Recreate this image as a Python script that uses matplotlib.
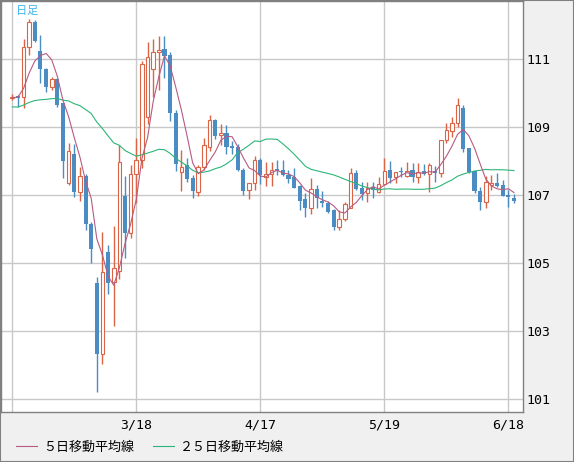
import numpy as np
import pandas as pd
import matplotlib.pyplot as plt
from matplotlib.patches import Rectangle
from matplotlib.font_manager import FontProperties

# daily candles, 2/17 .. 6/19 (weekdays)
opens = [109.85, 109.92, 109.88, 111.35, 112.09, 111.24, 110.70, 110.17, 110.42, 109.70,
         107.35, 108.20, 107.10, 107.57, 106.15, 104.41, 102.32, 105.32, 104.44, 104.76,
         106.98, 105.88, 107.63, 108.05, 109.31, 110.70, 111.20, 111.30, 111.13, 109.43,
         107.69, 107.90, 107.52, 107.09, 107.82, 108.41, 109.21, 108.76, 108.83, 108.45,
         108.42, 107.74, 107.15, 107.35, 108.04, 107.53, 107.63, 107.76, 107.74, 107.59,
         107.53, 107.28, 106.89, 106.62, 107.18, 106.84, 106.76, 106.55, 106.05, 106.29,
         106.61, 107.64, 107.21, 107.06, 107.25, 107.10, 107.33, 107.74, 107.53, 107.72,
         107.57, 107.74, 107.53, 107.71, 107.62, 107.71, 107.65, 108.63, 108.90, 109.12,
         109.58, 108.38, 107.71, 107.11, 106.81, 107.30, 107.35, 107.30, 107.01, 106.93]
highs = [109.97, 109.95, 111.59, 112.20, 112.15, 111.70, 110.75, 110.47, 110.45, 109.72,
         108.55, 108.50, 107.84, 107.62, 106.20, 104.60, 105.93, 105.52, 106.10, 108.47,
         107.57, 107.90, 108.68, 110.95, 111.52, 111.59, 111.69, 111.69, 111.20, 109.50,
         108.33, 108.10, 107.60, 107.90, 108.68, 109.36, 109.25, 109.10, 109.07, 108.60,
         108.50, 107.80, 107.35, 108.14, 108.10, 107.97, 107.97, 108.04, 108.04, 107.74,
         107.80, 107.30, 107.06, 107.50, 107.30, 107.12, 106.82, 106.59, 106.56, 106.79,
         107.79, 107.73, 107.39, 107.40, 107.40, 107.55, 108.10, 108.00, 107.69, 107.82,
         107.97, 107.94, 107.94, 107.92, 107.94, 107.86, 108.63, 109.12, 109.31, 109.85,
         109.66, 108.40, 107.72, 107.25, 107.57, 107.60, 107.65, 107.45, 107.16, 107.04]
lows = [109.80, 109.60, 109.56, 111.13, 111.50, 110.30, 110.05, 110.10, 109.60, 107.50,
        107.30, 106.95, 106.84, 105.98, 105.00, 101.22, 102.03, 104.10, 103.14, 104.53,
        105.16, 105.75, 106.76, 107.80, 109.10, 109.90, 110.10, 110.45, 109.17, 107.72,
        107.12, 107.40, 106.93, 106.97, 107.75, 108.30, 108.65, 108.48, 108.20, 108.20,
        107.70, 107.00, 106.90, 107.16, 107.32, 107.28, 107.28, 107.60, 107.56, 107.37,
        107.20, 106.57, 106.37, 106.45, 106.62, 106.65, 106.47, 105.98, 105.98, 106.25,
        106.61, 107.15, 106.86, 106.81, 106.92, 107.07, 107.33, 107.35, 107.35, 107.55,
        107.55, 107.40, 107.37, 107.60, 107.08, 107.40, 107.53, 108.53, 108.72, 109.02,
        108.26, 107.65, 107.06, 106.57, 106.62, 107.16, 107.24, 106.98, 106.66, 106.76]
closes = [109.90, 109.86, 111.35, 112.09, 111.55, 110.70, 110.17, 110.41, 109.65, 108.00,
          108.30, 107.10, 107.57, 106.14, 105.43, 102.32, 104.73, 104.43, 104.85, 107.99,
          105.88, 107.63, 108.04, 110.85, 111.08, 111.20, 111.27, 111.10, 109.41, 107.92,
          107.84, 107.48, 107.11, 107.82, 108.47, 109.21, 108.75, 108.82, 108.43, 108.39,
          107.74, 107.11, 107.35, 108.03, 107.58, 107.62, 107.74, 107.71, 107.59, 107.47,
          107.22, 106.84, 106.62, 107.18, 106.91, 106.78, 106.52, 106.05, 106.29, 106.74,
          107.65, 107.19, 107.04, 107.21, 107.16, 107.33, 107.72, 107.52, 107.69, 107.67,
          107.72, 107.53, 107.69, 107.63, 107.89, 107.65, 108.63, 108.92, 109.13, 109.64,
          108.36, 107.69, 107.11, 106.81, 107.40, 107.35, 107.27, 106.99, 106.94, 106.84]
# closes before the first visible day (needed for the moving averages)
prior_closes = [109.98, 109.90, 110.15, 110.15, 110.15, 109.87, 109.85, 109.48, 109.28, 108.90,
                109.13, 109.02, 108.95, 108.38, 108.65, 109.50, 109.83, 109.97, 109.75, 109.73,
                109.78, 110.07, 109.82, 109.78]

tick_pos = [0, 22, 44, 66, 88]
tick_labels = ['', '3/18', '4/17', '5/19', '6/18']
y_ticks = [101, 103, 105, 107, 109, 111]

UP = '#dc6446'
DOWN = '#4b8cc3'
MA5_C = '#b75b80'
MA25_C = '#2cb578'

W, H = 574, 462
fig = plt.figure(figsize=(W / 100, H / 100), dpi=100, facecolor='#f0f0f0')
ax = fig.add_axes([1 / W, 50 / H, 522 / W, 411 / H])
ax.set_facecolor('white')

for i in range(len(closes)):
    o, h, l, c = opens[i], highs[i], lows[i], closes[i]
    up = c >= o
    col = UP if up else DOWN
    ax.vlines(i, l, h, color=col, lw=1, zorder=2)
    bottom = min(o, c)
    height = max(abs(c - o), 0.03)
    if up:
        ax.add_patch(Rectangle((i - 0.32, bottom), 0.64, height, facecolor='white',
                               edgecolor=col, lw=0.8, zorder=3))
    else:
        ax.add_patch(Rectangle((i - 0.36, bottom), 0.72, height, facecolor=col,
                               edgecolor='none', zorder=3))

s = pd.Series(prior_closes + closes)
n0 = len(prior_closes)
ma5 = s.rolling(5).mean().iloc[n0:].to_numpy()
ma25 = s.rolling(25).mean().iloc[n0:].to_numpy()
x = np.arange(len(closes))
l25, = ax.plot(x, ma25, color=MA25_C, lw=0.8, zorder=4)
l5, = ax.plot(x, ma5, color=MA5_C, lw=0.8, zorder=5)

ax.set_xlim(-2.0, 90.6)
ax.set_ylim(100.62, 112.715)
ax.set_xticks(tick_pos)
ax.set_xticklabels(tick_labels)
ax.set_yticks(y_ticks)
ax.yaxis.tick_right()
ax.grid(color='#c8c8c8', lw=1)
ax.set_axisbelow(True)
ax.tick_params(length=0, labelsize=9.5, colors='black')
ax.tick_params(axis='x', pad=4.5)
ax.tick_params(axis='y', pad=2.5)
for lab in ax.get_xticklabels() + ax.get_yticklabels():
    lab.set_fontfamily('DejaVu Sans Mono')
for sp in ax.spines.values():
    sp.set_color('#808080')
    sp.set_linewidth(1)

jp = ['Noto Sans CJK JP', 'DejaVu Sans']
fig.text(16 / W, 1 - 10.5 / H, '日足', color='#3cb6ee', fontsize=8, va='center',
         family=jp)

fig.legend([l5, l25], ['５日移動平均線', '２５日移動平均線'], loc='center left',
           bbox_to_anchor=(16 / W, 1 - 447 / H), ncol=2, frameon=False,
           prop=FontProperties(family=jp, size=9.4), handlelength=1.6,
           handletextpad=0.45, columnspacing=1.5, borderpad=0, borderaxespad=0)

fig.patches.append(Rectangle((0, 0), 1, 1, transform=fig.transFigure, fill=False,
                             edgecolor='#808080', lw=1.5))

fig.savefig('out.png', dpi=100, facecolor=fig.get_facecolor())
